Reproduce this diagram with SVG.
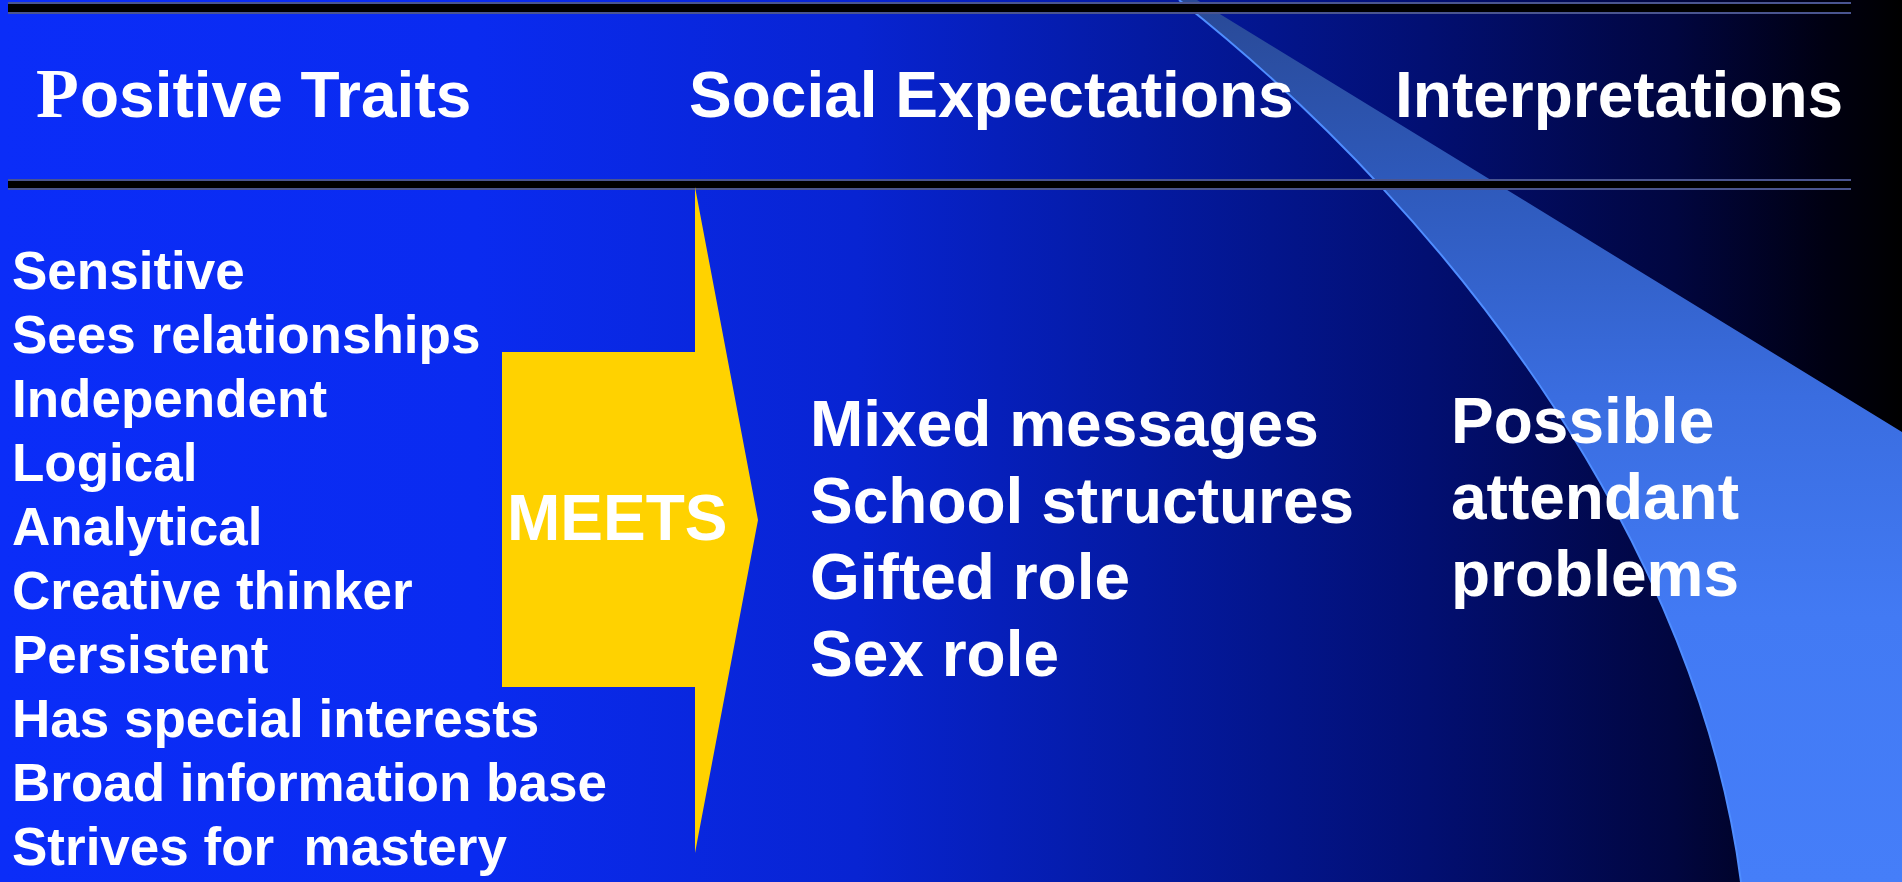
<svg xmlns="http://www.w3.org/2000/svg" width="1902" height="882" viewBox="0 0 1902 882">
  <defs>
    <linearGradient id="bg" x1="0" y1="0" x2="1902" y2="0" gradientUnits="userSpaceOnUse">
      <stop offset="0" stop-color="#0b2df8"/>
      <stop offset="0.25" stop-color="#0a2bf0"/>
      <stop offset="0.45" stop-color="#0824d2"/>
      <stop offset="0.6" stop-color="#041aa2"/>
      <stop offset="0.75" stop-color="#020f72"/>
      <stop offset="0.88" stop-color="#010640"/>
      <stop offset="0.96" stop-color="#000012"/>
      <stop offset="1" stop-color="#000000"/>
    </linearGradient>
    <linearGradient id="swoosh" x1="0" y1="0" x2="0" y2="882" gradientUnits="userSpaceOnUse">
      <stop offset="0" stop-color="#294996"/>
      <stop offset="0.2" stop-color="#2e59ba"/>
      <stop offset="0.45" stop-color="#3a6de0"/>
      <stop offset="0.7" stop-color="#427af4"/>
      <stop offset="1" stop-color="#457ef9"/>
    </linearGradient>
    <style>
      .head { font-family: "Liberation Sans", Arial, sans-serif; font-weight: bold; font-size: 64px; fill: #ffffff; }
      .item { font-family: "Liberation Sans", Arial, sans-serif; font-weight: bold; font-size: 53px; fill: #ffffff; }
      .big { font-family: "Liberation Sans", Arial, sans-serif; font-weight: bold; font-size: 64px; fill: #ffffff; }
      .rule-edge { fill: #4a5590; }
      .rule-core { fill: #000000; }
    </style>
  </defs>

  <!-- background -->
  <rect x="0" y="0" width="1902" height="882" fill="url(#bg)"/>

  <!-- decorative swoosh on the right -->
  <g id="swoosh-band">
    <path d="M1179,0 C1470,230 1700,560 1741,882 L1902,882 L1902,432 L1197,0 Z" fill="url(#swoosh)"/>
    <path d="M1179,0 C1470,230 1700,560 1741,882" fill="none" stroke="#4f8dff" stroke-width="2"/>
  </g>

  <!-- header rules -->
  <g id="rules">
    <rect class="rule-edge" x="8" y="2" width="1843" height="12"/>
    <rect class="rule-core" x="8" y="4" width="1843" height="8"/>
    <rect class="rule-edge" x="8" y="179" width="1843" height="11"/>
    <rect class="rule-core" x="8" y="181" width="1843" height="7"/>
  </g>

  <!-- column headings -->
  <g id="heading-traits">
    <text class="head" x="36" y="117"><tspan font-family="Liberation Serif, Times New Roman, serif" font-size="70">P</tspan><tspan x="80">ositive Traits</tspan></text>
  </g>
  <g id="heading-expectations">
    <text class="head" x="689" y="117">Social Expectations</text>
  </g>
  <g id="heading-interpretations">
    <text class="head" x="1395" y="117">Interpretations</text>
  </g>

  <!-- list of traits -->
  <g id="traits">
    <text class="item" x="12" y="289">Sensitive</text>
    <text class="item" x="12" y="353">Sees relationships</text>
    <text class="item" x="12" y="417">Independent</text>
    <text class="item" x="12" y="481">Logical</text>
    <text class="item" x="12" y="545">Analytical</text>
    <text class="item" x="12" y="609">Creative thinker</text>
    <text class="item" x="12" y="673">Persistent</text>
    <text class="item" x="12" y="737">Has special interests</text>
    <text class="item" x="12" y="801">Broad information base</text>
    <text class="item" x="12" y="865" xml:space="preserve">Strives for  mastery</text>
  </g>

  <!-- block arrow -->
  <g id="meets-arrow">
    <polygon points="502,352 695,352 695,187 758,520 695,853 695,687 502,687" fill="#ffd200"/>
    <text class="big" x="507" y="540">MEETS</text>
  </g>

  <!-- social expectations -->
  <g id="expectations">
    <text class="big" x="810" y="446">Mixed messages</text>
    <text class="big" x="810" y="523">School structures</text>
    <text class="big" x="810" y="599">Gifted role</text>
    <text class="big" x="810" y="676">Sex role</text>
  </g>

  <!-- interpretations -->
  <g id="interpretations">
    <text class="big" x="1451" y="443">Possible</text>
    <text class="big" x="1451" y="519">attendant</text>
    <text class="big" x="1451" y="596">problems</text>
  </g>
  <g id="connectors"/>
</svg>
